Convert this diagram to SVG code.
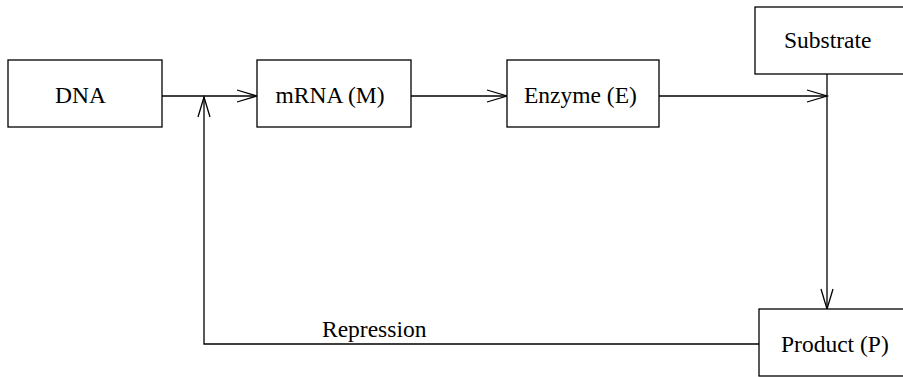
<svg xmlns="http://www.w3.org/2000/svg" width="903" height="377" viewBox="0 0 903 377">
<style>
.box{fill:#fff;stroke:#000;stroke-width:1.3}
.lbl{font-family:"Liberation Serif","Times New Roman",serif;font-size:23.5px;fill:#000}
.con{fill:none;stroke:#000;stroke-width:1.3}
</style>
<defs>
<marker id="v" markerUnits="userSpaceOnUse" markerWidth="24" markerHeight="16" viewBox="-2 -2 24 16" refX="20" refY="6" orient="auto" overflow="visible">
<path d="M0,0 L20,6 L0,12" fill="none" stroke="#000" stroke-width="1.3"/>
</marker>
</defs>
<rect width="903" height="377" fill="#fff"/>
<g id="connectors">
<line class="con" x1="162" y1="96" x2="257" y2="96" marker-end="url(#v)"/>
<line class="con" x1="411" y1="96" x2="507" y2="96" marker-end="url(#v)"/>
<line class="con" x1="659" y1="96" x2="827" y2="96" marker-end="url(#v)"/>
<line class="con" x1="827" y1="74" x2="827" y2="309" marker-end="url(#v)"/>
<polyline class="con" points="759,344 204,344 204,97" marker-end="url(#v)"/>
<text class="lbl" x="322" y="337">Repression</text>
</g>
<g id="dna">
<rect class="box" x="8" y="60" width="154" height="67"/>
<text class="lbl" x="55" y="103">DNA</text>
</g>
<g id="mrna">
<rect class="box" x="257" y="60" width="154" height="67"/>
<text class="lbl" x="275.5" y="103">mRNA (M)</text>
</g>
<g id="enzyme">
<rect class="box" x="507" y="60" width="152" height="67"/>
<text class="lbl" x="524" y="103">Enzyme (E)</text>
</g>
<g id="substrate">
<rect class="box" x="755" y="7" width="160" height="67"/>
<text class="lbl" x="784" y="48">Substrate</text>
</g>
<g id="product">
<rect class="box" x="759" y="309" width="160" height="67"/>
<text class="lbl" x="781" y="352">Product (P)</text>
</g>
</svg>
